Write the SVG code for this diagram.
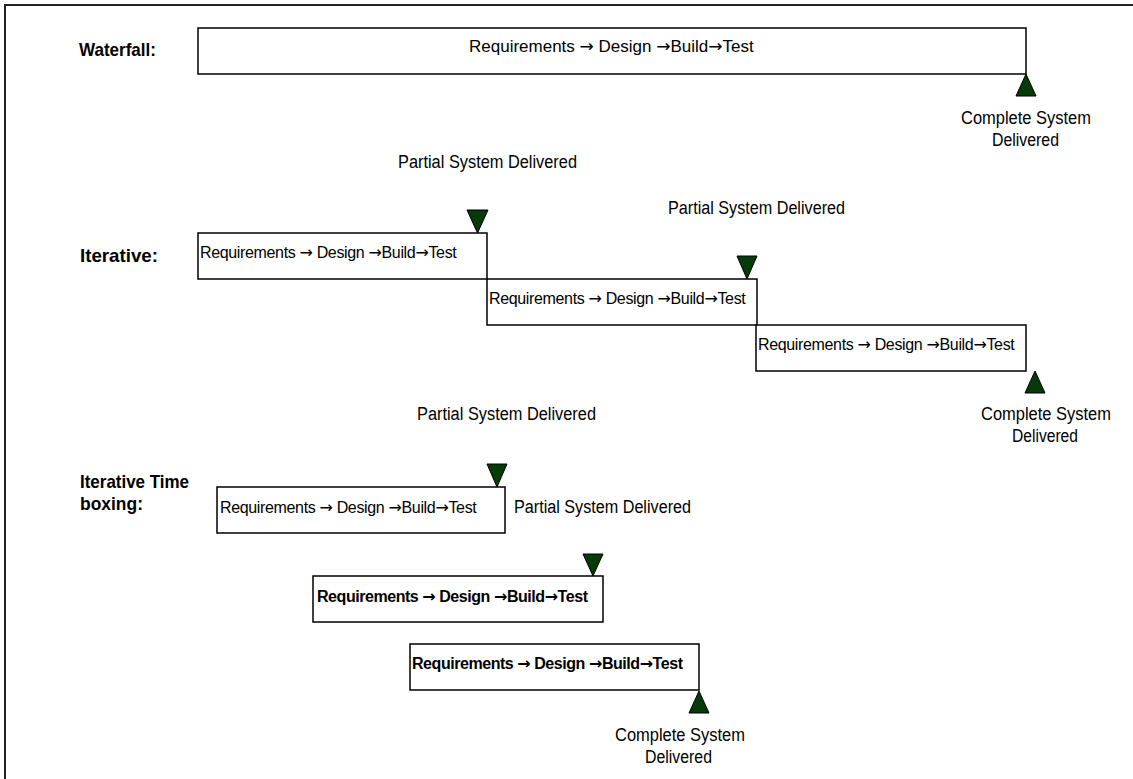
<svg xmlns="http://www.w3.org/2000/svg" width="1133" height="779" viewBox="0 0 1133 779">
<style>
.frame{fill:none;stroke:#222;stroke-width:2}
.box{fill:#fff;stroke:#000;stroke-width:1.5}
.tri{fill:#063a06;stroke:#000;stroke-width:1}
.lbl{font-family:"Liberation Sans",Arial,sans-serif;font-weight:bold;font-size:19px;fill:#000}
.t{font-family:"Liberation Sans",Arial,sans-serif;font-size:16px;letter-spacing:-0.35px;fill:#000}
.tw{font-family:"Liberation Sans",Arial,sans-serif;font-size:17px;fill:#000}
.tb{font-family:"Liberation Sans",Arial,sans-serif;font-size:16px;font-weight:bold;letter-spacing:-0.45px;fill:#000}
.m{font-family:"Liberation Sans",Arial,sans-serif;font-size:18px;fill:#000}
.a{font-family:"DejaVu Sans",sans-serif}
</style>
<rect class="frame" x="5" y="5" width="1150" height="800"/>

<g id="label-waterfall"><text class="lbl" x="79" y="56" textLength="77" lengthAdjust="spacingAndGlyphs">Waterfall:</text></g>
<g id="label-iterative"><text class="lbl" x="80" y="262" textLength="78" lengthAdjust="spacingAndGlyphs">Iterative:</text></g>
<g id="label-timeboxing">
<text class="lbl" x="80" y="488" textLength="109" lengthAdjust="spacingAndGlyphs">Iterative Time</text>
<text class="lbl" x="80" y="510" textLength="63" lengthAdjust="spacingAndGlyphs">boxing:</text>
</g>

<g id="waterfall-box">
<rect class="box" x="198" y="28" width="828" height="46"/>
<text class="tw" x="469" y="52">Requirements <tspan class="a">→</tspan> Design <tspan class="a">→</tspan>Build<tspan class="a">→</tspan>Test</text>
</g>
<g id="waterfall-complete">
<polygon class="tri" points="1016,96 1036,96 1026,74"/>
<text class="m" x="961" y="124" textLength="130" lengthAdjust="spacingAndGlyphs">Complete System</text>
<text class="m" x="992" y="146" textLength="67" lengthAdjust="spacingAndGlyphs">Delivered</text>
</g>

<g id="iter-box1">
<rect class="box" x="198" y="233" width="289" height="46"/>
<text class="t" x="200" y="258">Requirements <tspan class="a">→</tspan> Design <tspan class="a">→</tspan>Build<tspan class="a">→</tspan>Test</text>
</g>
<g id="iter-partial1">
<polygon class="tri" points="467,210 488,210 477.5,233"/>
<text class="m" x="398" y="168" textLength="179" lengthAdjust="spacingAndGlyphs">Partial System Delivered</text>
</g>
<g id="iter-box2">
<rect class="box" x="487" y="279" width="270" height="46"/>
<text class="t" x="489" y="304">Requirements <tspan class="a">→</tspan> Design <tspan class="a">→</tspan>Build<tspan class="a">→</tspan>Test</text>
</g>
<g id="iter-partial2">
<polygon class="tri" points="737,256 757,256 747,279"/>
<text class="m" x="668" y="214" textLength="177" lengthAdjust="spacingAndGlyphs">Partial System Delivered</text>
</g>
<g id="iter-box3">
<rect class="box" x="756" y="325" width="270" height="46"/>
<text class="t" x="758" y="350">Requirements <tspan class="a">→</tspan> Design <tspan class="a">→</tspan>Build<tspan class="a">→</tspan>Test</text>
</g>
<g id="iter-complete">
<polygon class="tri" points="1025,393 1045,393 1035,371"/>
<text class="m" x="981" y="420" textLength="130" lengthAdjust="spacingAndGlyphs">Complete System</text>
<text class="m" x="1012" y="442" textLength="66" lengthAdjust="spacingAndGlyphs">Delivered</text>
</g>

<g id="tb-partial1">
<polygon class="tri" points="487,464 507,464 497,487"/>
<text class="m" x="417" y="420" textLength="179" lengthAdjust="spacingAndGlyphs">Partial System Delivered</text>
</g>
<g id="tb-box1">
<rect class="box" x="217" y="487" width="288" height="46"/>
<text class="t" x="220" y="513">Requirements <tspan class="a">→</tspan> Design <tspan class="a">→</tspan>Build<tspan class="a">→</tspan>Test</text>
</g>
<g id="tb-partial2">
<text class="m" x="514" y="513" textLength="177" lengthAdjust="spacingAndGlyphs">Partial System Delivered</text>
<polygon class="tri" points="583,554 603,554 593,576"/>
</g>
<g id="tb-box2">
<rect class="box" x="313" y="576" width="290" height="46"/>
<text class="tb" x="317" y="602">Requirements <tspan class="a">→</tspan> Design <tspan class="a">→</tspan>Build<tspan class="a">→</tspan>Test</text>
</g>
<g id="tb-box3">
<rect class="box" x="410" y="644" width="289" height="46"/>
<text class="tb" x="412" y="669">Requirements <tspan class="a">→</tspan> Design <tspan class="a">→</tspan>Build<tspan class="a">→</tspan>Test</text>
</g>
<g id="tb-complete">
<polygon class="tri" points="689,713 709,713 699,691"/>
<text class="m" x="615" y="741" textLength="130" lengthAdjust="spacingAndGlyphs">Complete System</text>
<text class="m" x="645" y="763" textLength="67" lengthAdjust="spacingAndGlyphs">Delivered</text>
</g>
</svg>
